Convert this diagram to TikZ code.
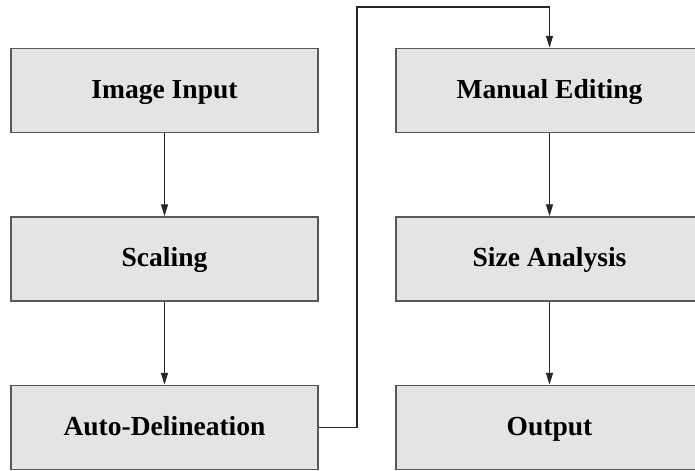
\documentclass[tikz,border=0pt]{standalone}
\usepackage{fontspec}
\setmainfont{Liberation Serif}
\usetikzlibrary{arrows.meta}
\definecolor{boxfill}{RGB}{228,228,228}
\definecolor{boxline}{RGB}{88,88,88}

\begin{document}
\begin{tikzpicture}[x=.03cm,y=-.03cm,>={Triangle[length=10pt,width=6pt]},
  stage/.style={draw=boxline,fill=boxfill,line width=1.6pt,minimum width=9.2cm,minimum height=2.52cm,
    inner sep=0pt,text height=1.5em,text depth=.22em,font=\fontsize{23.5}{28}\selectfont\bfseries},
  flow/.style={->,line width=.9pt,black!85}]
\path[use as bounding box] (0,0) rectangle (695,470);
\node[stage] (input) at (164.5,90.5) {Image Input};
\node[stage] (scale) at (164.5,259) {Scaling};
\node[stage] (auto) at (164.5,427.5) {Auto-Delineation};
\node[stage] (edit) at (549.5,90.5) {Manual Editing};
\node[stage] (size) at (549.5,259) {Size Analysis};
\node[stage] (out) at (549.5,427.5) {Output};
\coordinate (turn) at (357,7);
\draw[flow] (input) -- (scale);
\draw[flow] (scale) -- (auto);
\draw[flow] (auto.east) -| (turn) -| (edit.north);
\draw[flow] (edit) -- (size);
\draw[flow] (size) -- (out);
\end{tikzpicture}
\end{document}
